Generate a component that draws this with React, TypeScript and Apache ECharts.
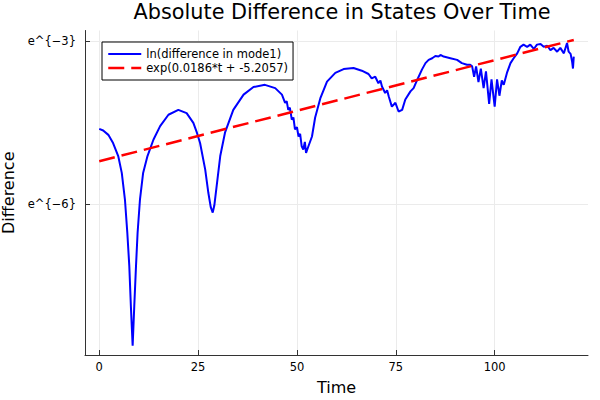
import React, { useEffect, useRef } from "react";
import * as echarts from "echarts";

const titleText = "Absolute Difference in States Over Time";
const xName = "Time";
const yName = "Difference";
const seriesNames = ["ln(difference in mode1)", "exp(0.0186*t + -5.2057)"];

const times = [
  0.0, 1.0, 2.3, 3.5, 4.8, 5.7, 6.5, 7.1, 7.6, 8.0, 8.45, 8.86, 9.3, 9.7, 10.3, 11.1, 12.2,
  13.7, 15.4, 17.5, 20.0, 22.1, 23.8, 24.7,
  25.5, 26.8, 27.6, 28.2, 28.7, 29.1, 29.7, 30.6, 31.8, 33.9, 36.5, 39.0, 41.9, 44.5, 46.2,
  47.0, 47.4, 47.8, 48.2, 48.7, 49.1, 49.5, 50.0, 50.4, 50.8, 51.2, 51.6, 52.0, 52.3, 52.9,
  53.8, 54.6, 55.9, 57.6, 59.7, 61.8, 64.3, 66.4, 68.1, 68.9, 69.8, 70.6, 71.1, 71.5, 72.3,
  72.8, 73.2, 74.0, 74.9, 75.7, 76.6, 77.4, 78.7, 79.5, 80.4, 81.6, 82.5, 83.3, 84.2, 85.0,
  85.8, 86.3, 87.1, 88.8, 90.5, 91.7, 93.0, 93.8, 94.3, 94.8, 95.3, 95.9, 96.5, 97.2, 97.8,
  98.6, 99.2, 100.0, 100.6, 101.2, 101.8, 102.3, 103.1, 104.0, 104.8, 105.7, 106.5, 107.3,
  108.2, 109.0, 109.9, 110.7, 111.6, 112.4, 113.3, 114.1, 114.9, 115.8, 116.6, 117.5, 118.3,
  118.7, 119.2, 119.6, 119.8, 120.0,
];
const values = [
  -4.61, -4.64, -4.72, -4.87, -5.11, -5.42, -5.91, -6.52, -7.13, -7.87, -8.6, -7.87, -7.13,
  -6.52, -5.91, -5.42, -5.11, -4.81, -4.56, -4.35, -4.26, -4.32, -4.5, -4.68,
  -4.87, -5.36, -5.79, -6.05, -6.15, -6.02, -5.66, -5.11, -4.68, -4.26,
  -3.98, -3.84, -3.8, -3.86, -3.98, -4.13, -4.1, -4.26, -4.22, -4.44, -4.4, -4.62, -4.58,
  -4.75, -4.7, -4.93, -4.99, -4.85, -5.05, -4.93, -4.75, -4.4, -4.05, -3.74, -3.58, -3.51,
  -3.49, -3.54, -3.6, -3.68, -3.65, -3.77, -3.72, -3.83, -3.95, -3.9, -4.01, -4.2, -4.13,
  -4.29, -4.26, -4.07, -3.92, -3.86, -3.71, -3.52, -3.4, -3.34, -3.31, -3.27, -3.28, -3.25,
  -3.28, -3.31, -3.34, -3.4, -3.43, -3.43, -3.46, -3.65, -3.46, -3.75, -3.5, -3.86, -3.55,
  -4.15, -3.7, -4.2, -3.7, -4.0, -3.72, -3.8, -3.58, -3.4, -3.31, -3.22, -3.1, -3.06, -3.1,
  -3.06, -3.14, -3.06, -3.05, -3.1, -3.08, -3.16, -3.12, -3.19, -3.12, -3.22, -3.03, -3.19,
  -3.23, -3.38, -3.5, -3.28,
];
const fitTimes = [0, 120];
const fitValues = [-5.2057, -2.9737];

const xTickValues = [0, 25, 50, 75, 100];
const yTickValues = [-6, -3];
const yTickLabels = ["e^{−6}", "e^{−3}"];

const FONT = "DejaVu Sans";
const BLUE = "#0000ff";
const RED = "#ff0000";
const RED_DASH = [16, 7];

export default function App() {
  const ref = useRef<HTMLDivElement>(null);
  useEffect(() => {
    if (!ref.current) return;
    const chart = echarts.init(ref.current, null, { renderer: "svg" });
    const axisColor = "#333333";
    const gridColor = "#ebebeb";
    chart.setOption({
      animation: false,
      backgroundColor: "#ffffff",
      textStyle: { fontFamily: FONT, color: "#000" },
      title: {
        text: titleText,
        left: 337,
        textAlign: "center",
        top: -4,
        textStyle: { fontFamily: FONT, fontSize: 20.8, fontWeight: "normal", color: "#000" },
      },
      grid: { left: 85, right: 12, top: 30.5, bottom: 45, containLabel: false, outerBoundsMode: "none" },
      legend: {
        data: [
          { name: seriesNames[0], lineStyle: { color: BLUE, width: 2, type: "solid" } },
          { name: seriesNames[1], lineStyle: { color: RED, width: 2.5, type: RED_DASH } },
        ],
        orient: "vertical",
        left: 102,
        top: 42,
        itemWidth: 33,
        itemHeight: 12,
        itemGap: 2,
        padding: [6, 5, 6, 5],
        borderColor: "#000",
        borderWidth: 1,
        backgroundColor: "#fff",
        itemStyle: { opacity: 0 },
        textStyle: { fontFamily: FONT, fontSize: 11.5, color: "#000" },
      },
      xAxis: {
        type: "value",
        min: -3.6,
        max: 123.6,
        name: xName,
        nameLocation: "middle",
        nameGap: 24,
        nameTextStyle: { fontFamily: FONT, fontSize: 16, color: "#000" },
        axisLine: { show: true, onZero: false, lineStyle: { color: axisColor, width: 1 } },
        axisTick: { show: true, inside: true, length: 5, customValues: xTickValues, lineStyle: { color: axisColor } },
        axisLabel: {
          customValues: xTickValues,
          margin: 6,
          fontFamily: FONT,
          fontSize: 11.5,
          color: "#000",
        },
        splitLine: { show: true, lineStyle: { color: gridColor, width: 1 } },
      },
      yAxis: {
        type: "value",
        min: -8.77,
        max: -2.8,
        name: yName,
        nameLocation: "middle",
        nameGap: 62,
        nameTextStyle: { fontFamily: FONT, fontSize: 16, color: "#000" },
        axisLine: { show: true, onZero: false, lineStyle: { color: axisColor, width: 1 } },
        axisTick: { show: true, inside: true, length: 5, customValues: yTickValues, lineStyle: { color: axisColor } },
        axisLabel: {
          customValues: yTickValues,
          margin: 9,
          fontFamily: FONT,
          fontSize: 11.5,
          color: "#000",
          formatter: (val: number) => {
            const i = yTickValues.indexOf(val);
            return i >= 0 ? yTickLabels[i] : "";
          },
        },
        splitLine: { show: true, lineStyle: { color: gridColor, width: 1 } },
      },
      series: [
        {
          name: seriesNames[0],
          type: "line",
          data: times.map((t, i) => [t, values[i]]),
          symbol: "none",
          lineStyle: { color: BLUE, width: 2 },
          itemStyle: { color: BLUE },
          z: 2,
        },
        {
          name: seriesNames[1],
          type: "line",
          data: fitTimes.map((t, i) => [t, fitValues[i]]),
          symbol: "none",
          lineStyle: { color: RED, width: 2.5, type: RED_DASH },
          itemStyle: { color: RED },
          z: 3,
        },
      ],
    });
    return () => chart.dispose();
  }, []);
  return (
    <div
      ref={ref}
      style={{ position: "fixed", left: 0, top: 0, width: 600, height: 400, background: "#fff" }}
    />
  );
}
